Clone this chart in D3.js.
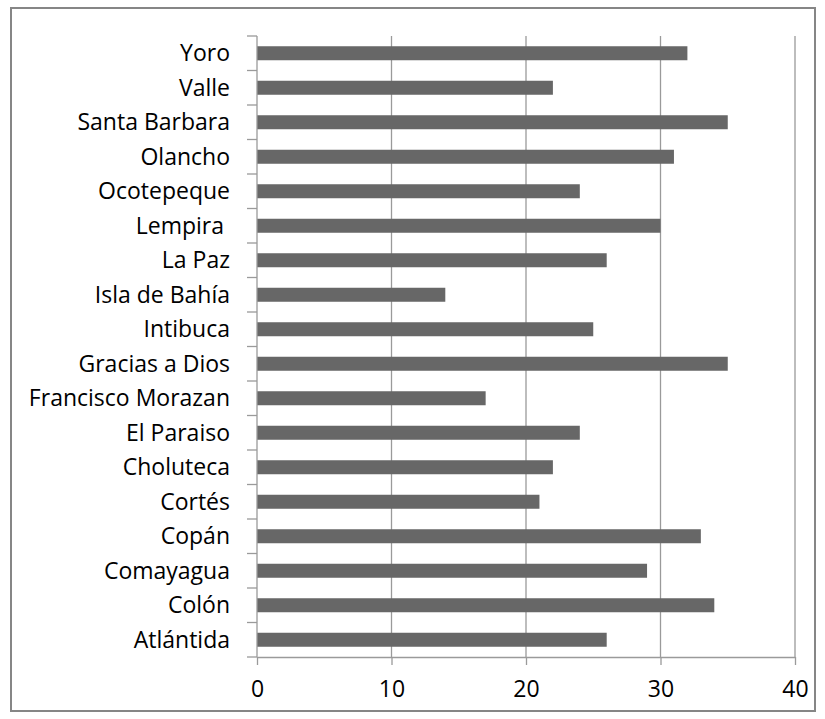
<!DOCTYPE html>
<html>
<head>
<meta charset="utf-8">
<script src="https://cdn.jsdelivr.net/npm/d3@7"></script>
<style>
  body { margin: 0; background: #fff; }
  svg { display: block; }
  text { font-family: "Open Sans", "Liberation Sans", sans-serif; fill: #000; white-space: pre; }
</style>
</head>
<body>
<svg id="chart" width="825" height="719"></svg>
<script>
const categories = ["Yoro", "Valle", "Santa Barbara", "Olancho", "Ocotepeque", "Lempira ", "La Paz",
  "Isla de Bahía", "Intibuca", "Gracias a Dios", "Francisco Morazan", "El Paraiso", "Choluteca",
  "Cortés", "Copán", "Comayagua", "Colón", "Atlántida"];
const values = [32, 22, 35, 31, 24, 30, 26, 14, 25, 35, 17, 24, 22, 21, 33, 29, 34, 26];
const xTicks = [0, 10, 20, 30, 40];

const svg = d3.select("#chart");
const margin = { left: 257, right: 795, top: 36, bottom: 657 };

svg.append("rect")
  .attr("x", 11).attr("y", 8).attr("width", 804).attr("height", 703)
  .attr("fill", "#fff").attr("stroke", "#868686").attr("stroke-width", 2);

const x = d3.scaleLinear().domain([0, 40]).range([margin.left, margin.right]);
const yb = d3.scaleBand().domain(categories).range([margin.top, margin.bottom]);

// gridlines
svg.append("g").selectAll("line").data(xTicks.filter(d => d > 0)).join("line")
  .attr("x1", d => x(d)).attr("x2", d => x(d))
  .attr("y1", margin.top).attr("y2", margin.bottom)
  .attr("stroke", "#9a9a9a").attr("stroke-width", 1.3);

// bars
svg.append("g").selectAll("rect").data(categories).join("rect")
  .attr("x", x(0))
  .attr("y", d => yb(d) + yb.bandwidth() / 2 - 7)
  .attr("height", 14)
  .attr("width", (d, i) => x(values[i]) - x(0))
  .attr("fill", "#676767");

// x axis
const xAxis = d3.axisBottom(x).tickValues(xTicks).tickSize(8).tickPadding(16).tickSizeOuter(0);
const gx = svg.append("g").attr("transform", `translate(0,${margin.bottom})`).call(xAxis);
gx.select(".domain").attr("stroke", "#9a9a9a").attr("stroke-width", 1.3);
gx.selectAll(".tick line").attr("stroke", "#9a9a9a").attr("stroke-width", 1.3);
gx.selectAll(".tick text").attr("font-size", 23).attr("font-family", "Open Sans").attr("fill", "#000");

// y axis
const gy = svg.append("g").attr("transform", `translate(${margin.left},0)`);
gy.append("line").attr("x1", 0).attr("x2", 0).attr("y1", margin.top).attr("y2", margin.bottom)
  .attr("stroke", "#9a9a9a").attr("stroke-width", 1.3);
const boundaries = categories.map(c => yb(c)).concat([margin.bottom]);
gy.selectAll("line.tk").data(boundaries).join("line").attr("class", "tk")
  .attr("x1", -10).attr("x2", 0).attr("y1", d => d).attr("y2", d => d)
  .attr("stroke", "#9a9a9a").attr("stroke-width", 1.3);
gy.selectAll("text").data(categories).join("text")
  .attr("x", -27)
  .attr("y", d => yb(d) + yb.bandwidth() / 2)
  .attr("dy", "0.35em")
  .attr("text-anchor", "end")
  .attr("font-size", 23)
  .text(d => d);
</script>
</body>
</html>
